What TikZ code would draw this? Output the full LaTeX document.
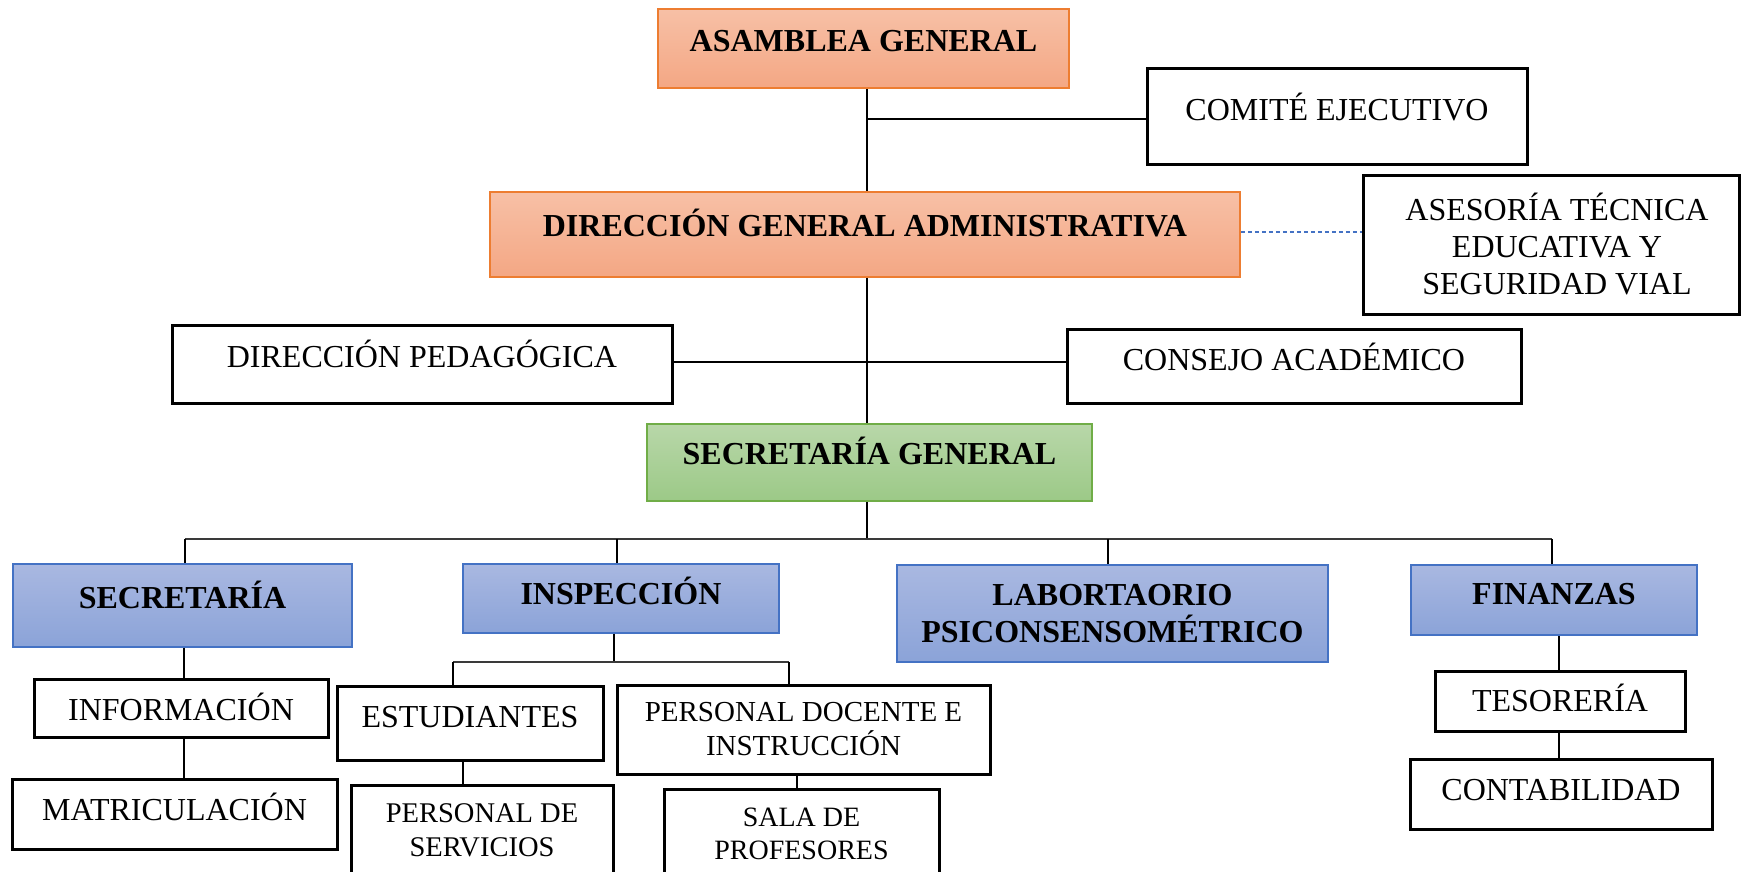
\documentclass[tikz,border=0pt]{standalone}
\usepackage{fontspec}
\setmainfont{Liberation Serif}

% raise a one-line label by #1 (px) above the box centre, caps centred
\newcommand\lift[2]{\raisebox{\dimexpr#1pt-0.331em\relax}[0pt][0pt]{#2}}
% nudge a centred line to the right by half of 12px
\newcommand\nudge{\hspace*{12pt}}

\definecolor{orT}{HTML}{F7C0A6}
\definecolor{orD}{HTML}{F4A784}
\definecolor{orB}{HTML}{ED7D31}
\definecolor{grT}{HTML}{B8D7A9}
\definecolor{grD}{HTML}{9CC987}
\definecolor{grB}{HTML}{70AD47}
\definecolor{blT}{HTML}{A9B8E1}
\definecolor{blD}{HTML}{8BA3D8}
\definecolor{blB}{HTML}{4472C4}
\definecolor{busgray}{HTML}{3A3A3A}

\tikzset{
  every node/.style={inner sep=0pt, align=center},
  sz/.style 2 args={minimum width=#1pt, minimum height=#2pt},
  big/.style={font=\fontsize{32}{37}\selectfont},
  wbox/.style={big, draw=black, line width=3pt, fill=white},
  obox/.style={big, font=\fontsize{32}{37}\selectfont\bfseries, draw=orB, line width=1.5pt, top color=orT, bottom color=orD},
  gbox/.style={big, font=\fontsize{32}{37}\selectfont\bfseries, draw=grB, line width=1.5pt, top color=grT, bottom color=grD},
  bbox/.style={big, font=\fontsize{32}{37}\selectfont\bfseries, draw=blB, line width=1.5pt, top color=blT, bottom color=blD},
  link/.style={line width=1.4pt, draw=black},
  busline/.style={line width=2.5pt, draw=busgray},
  advisory/.style={line width=1.3pt, draw=blB, dash pattern=on 4pt off 3pt},
}

\begin{document}
\begin{tikzpicture}[x=1pt, y=-1pt]
\useasboundingbox (0,0) rectangle (1741,871);
\clip (0,0) rectangle (1741,871);
\fill[white] (0,0) rectangle (1741,871);

% governing bodies
\node[obox, sz={411}{79}] (ag) at (863.5,48.5) {\lift{7.7}{ASAMBLEA GENERAL}};
\node[wbox, sz={380}{96}] (com) at (1337,116) {\lift{6}{COMITÉ EJECUTIVO}};
\node[obox, sz={750}{85}] (dga) at (865,234.5) {\lift{8.7}{DIRECCIÓN GENERAL ADMINISTRATIVA}};
\node[wbox, sz={376}{139}] (ase) at (1551,244.5) {\nudge ASESORÍA TÉCNICA\\\nudge EDUCATIVA Y\\\nudge SEGURIDAD VIAL};
\node[wbox, sz={500}{78}] (dp) at (422,364) {\lift{7}{DIRECCIÓN PEDAGÓGICA}};
\node[wbox, sz={454}{74}] (ca) at (1294,366) {\lift{6}{CONSEJO ACADÉMICO}};
\node[gbox, sz={445}{77}] (sg) at (869.5,462.5) {\lift{8.5}{SECRETARÍA GENERAL}};

% departments
\node[bbox, sz={339}{83}] (sec) at (182.5,605.5) {\lift{8}{SECRETARÍA}};
\node[bbox, sz={316}{69}] (insp) at (621,598.5) {\lift{4.5}{INSPECCIÓN}};
\node[bbox, sz={431}{97}] (lab) at (1112.5,613.5) {LABORTAORIO\\PSICONSENSOMÉTRICO};
\node[bbox, sz={286}{70}] (fin) at (1554,600) {\lift{6}{FINANZAS}};

% units
\node[wbox, sz={294}{58}] (inf) at (181,708) {\lift{-2}{INFORMACIÓN}};
\node[wbox, sz={325}{70}] (mat) at (174.5,814) {\lift{4}{MATRICULACIÓN}};
\node[wbox, sz={266}{74}] (est) at (470,723) {\lift{6}{ESTUDIANTES}};
\node[wbox, sz={373}{89}, font=\fontsize{29}{34}\selectfont] (pdi) at (803.5,729.5) {PERSONAL DOCENTE E\\INSTRUCCIÓN};
\node[wbox, sz={262}{90}, font=\fontsize{28.5}{34}\selectfont] (pds) at (482,830) {PERSONAL DE\\SERVICIOS};
\node[wbox, sz={275}{90}, font=\fontsize{28}{33}\selectfont] (sdp) at (801.5,834) {SALA DE\\PROFESORES};
\node[wbox, sz={250}{60}] (tes) at (1560,701) {\lift{0}{TESORERÍA}};
\node[wbox, sz={302}{70}] (cont) at (1561,794) {\lift{4.5}{CONTABILIDAD}};

% junction points
\coordinate (spine) at (867,0);
\coordinate (cj) at (867,119);
\coordinate (pj) at (867,362);
\coordinate (aj) at (1300,232);
\coordinate (bus) at (867,539);
\coordinate (d1) at (185,539);
\coordinate (d2) at (617,539);
\coordinate (d3) at (1108,539);
\coordinate (d4) at (1552,539);
\coordinate (c1) at (184,0);
\coordinate (ibM) at (614,662);
\coordinate (ibL) at (453,662);
\coordinate (ibR) at (789,662);
\coordinate (c2) at (463,0);
\coordinate (c3) at (797,0);
\coordinate (c4) at (1559,0);

% main spine
\draw[link] (ag.south -| spine) -- (dga.north -| spine);
\draw[link, line width=1.8pt] (cj) -- (cj -| com.west);
\draw[advisory] (aj -| dga.east) -- (aj -| ase.west);
\draw[link] (dga.south -| spine) -- (sg.north -| spine);
\draw[link] (pj -| dp.east) -- (pj -| ca.west);
\draw[link] (sg.south -| spine) -- (bus);

% department bus
\draw[busline] (d1) -- (d4);
\draw[link] (d1) -- (d1 |- sec.north);
\draw[link] (d2) -- (d2 |- insp.north);
\draw[link] (d3) -- (d3 |- lab.north);
\draw[link] (d4) -- (d4 |- fin.north);

% secretaría branch
\draw[link] (sec.south -| c1) -- (inf.north -| c1);
\draw[link] (inf.south -| c1) -- (mat.north -| c1);

% inspección branch
\draw[link] (insp.south -| ibM) -- (ibM);
\draw[busline, line width=2pt] (ibL) -- (ibR);
\draw[link] (ibL) -- (est.north -| ibL);
\draw[link] (ibR) -- (pdi.north -| ibR);
\draw[link] (est.south -| c2) -- (pds.north -| c2);
\draw[link] (pdi.south -| c3) -- (sdp.north -| c3);

% finanzas branch
\draw[link] (fin.south -| c4) -- (tes.north -| c4);
\draw[link] (tes.south -| c4) -- (cont.north -| c4);
\end{tikzpicture}
\end{document}
